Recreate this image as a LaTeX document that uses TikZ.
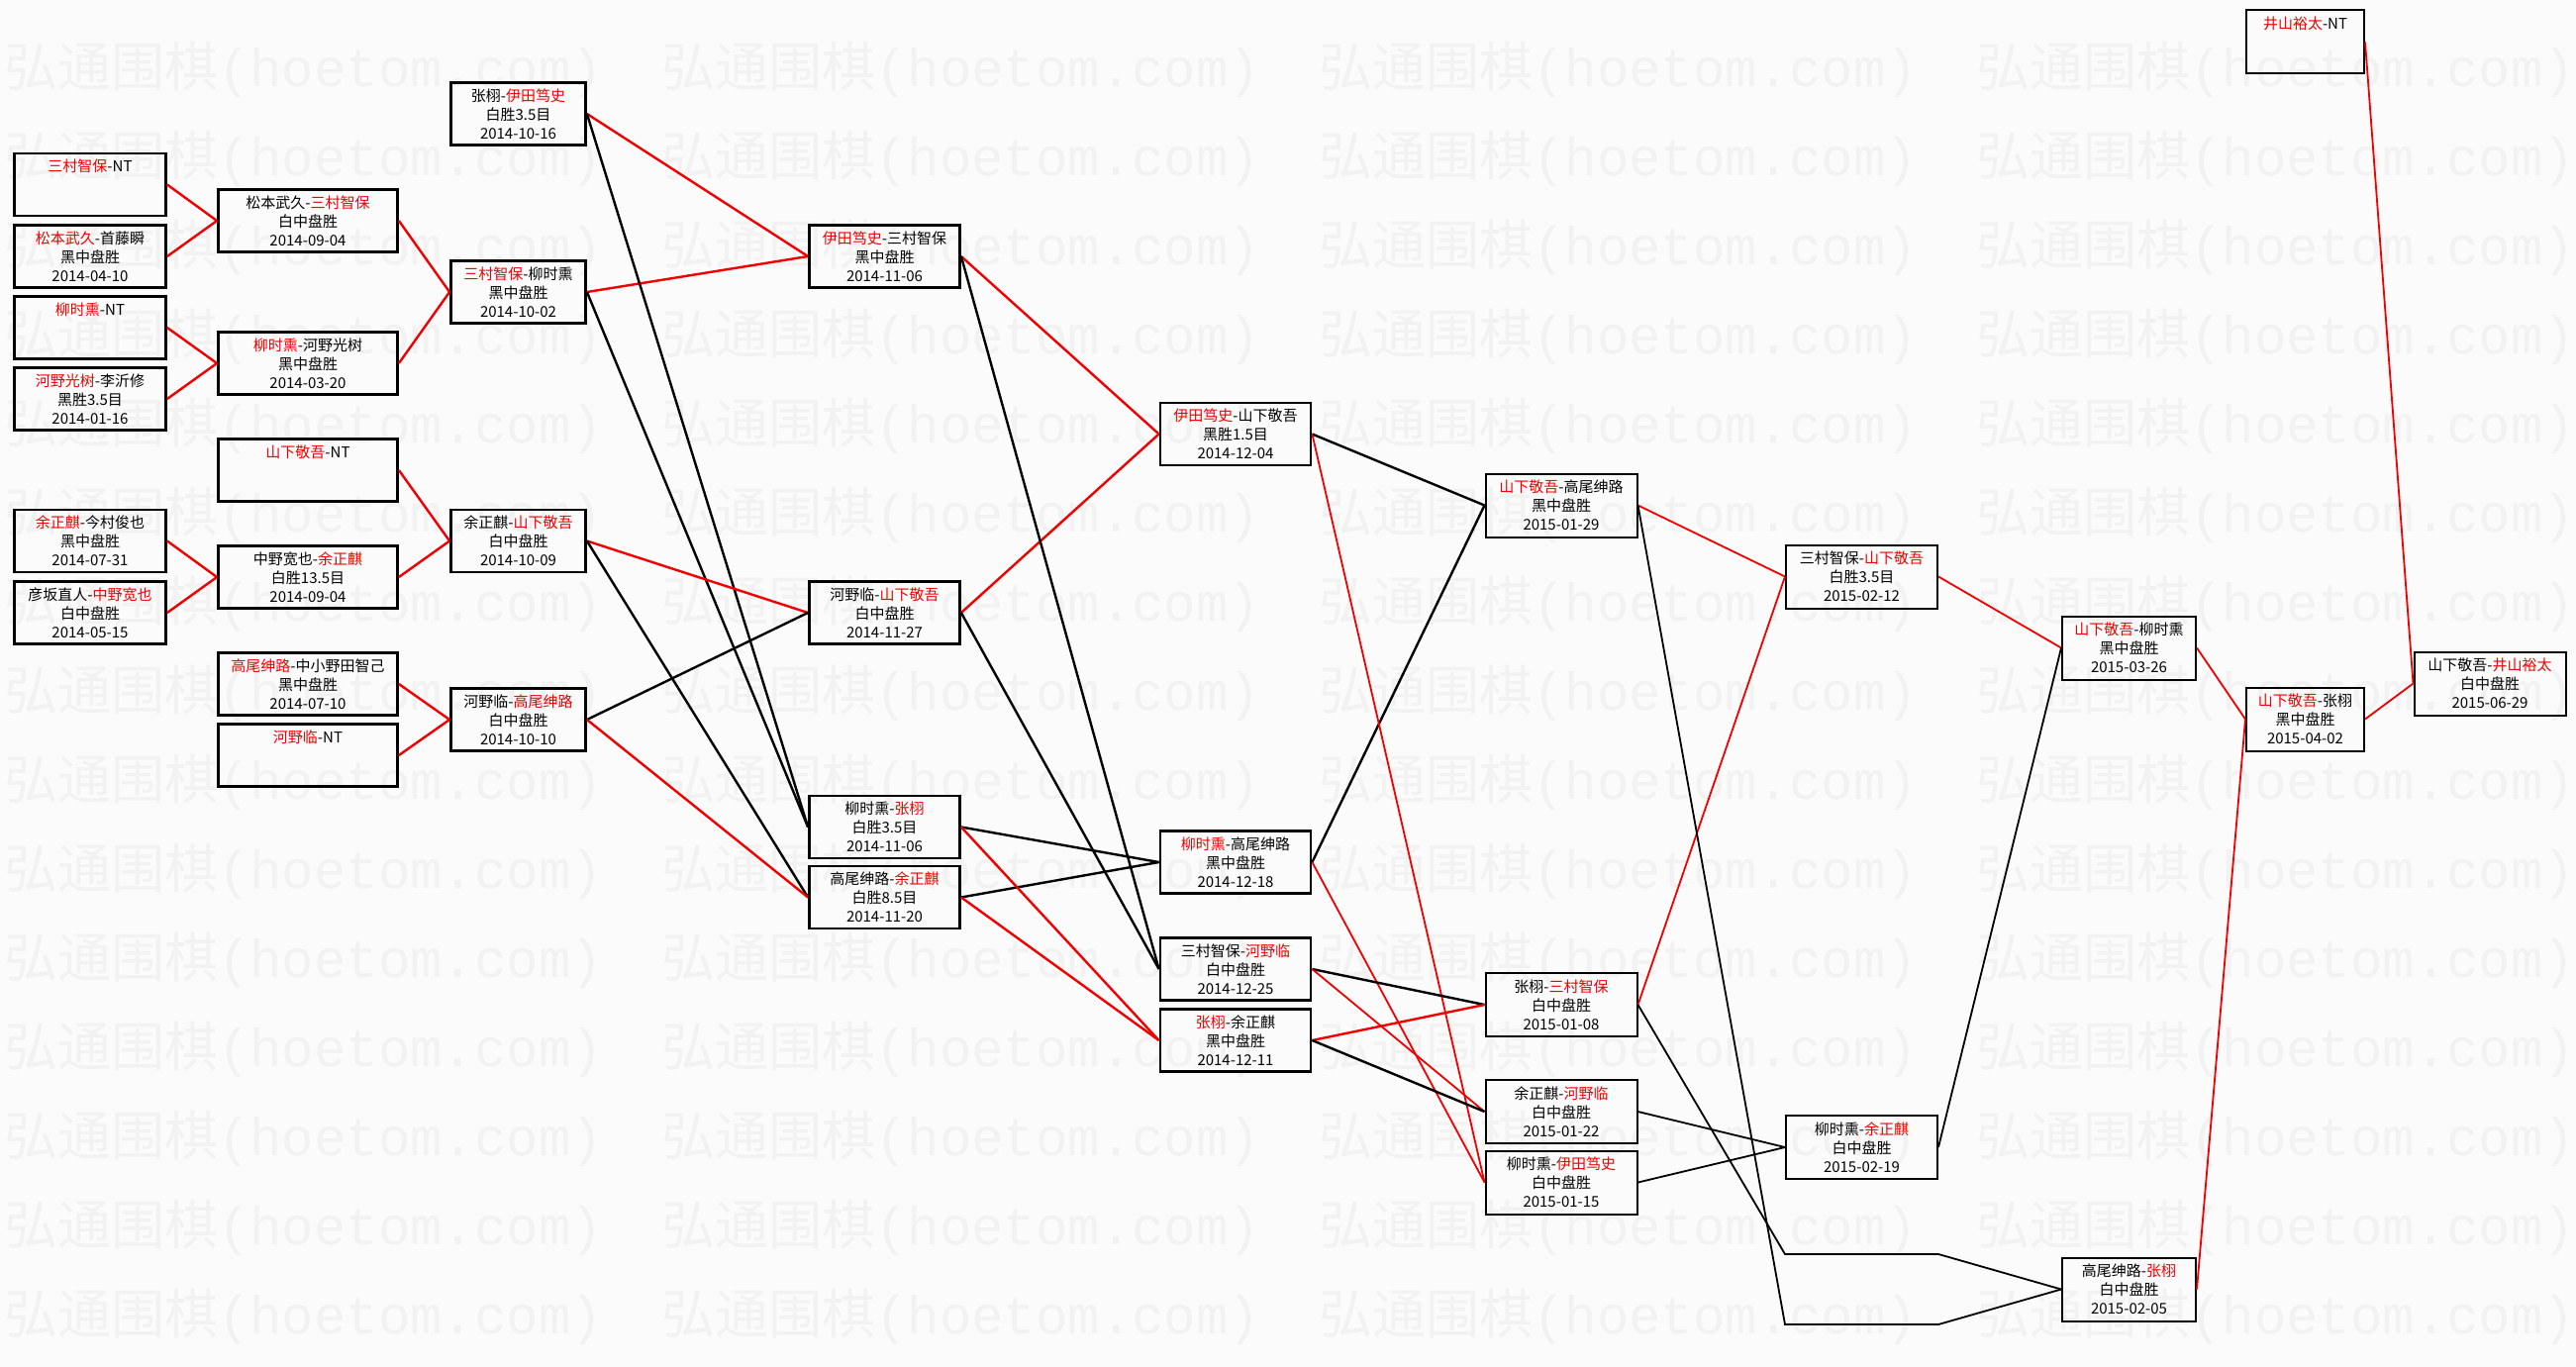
\documentclass[tikz,border=0pt]{standalone}
\usepackage{fontspec}
\setmainfont{Noto Sans CJK SC}
\newfontfamily\markfont{Liberation Mono}
\definecolor{winred}{RGB}{240,0,0}
\definecolor{markgray}{RGB}{242,242,242}
\definecolor{paper}{RGB}{251,251,251}
\newcommand{\won}[1]{\textcolor{winred}{#1}}

\begin{document}
\begin{tikzpicture}[x=1pt, y=-1pt,
  game/.style={draw, line width=2.8pt, inner sep=0pt, align=center,
    minimum height=63pt, font=\fontsize{15}{19}\selectfont},
  late/.style={line width=2pt, minimum height=64pt},
  colA/.style={game, minimum width=153pt},
  colB/.style={game, minimum width=181pt},
  colC/.style={game, minimum width=136pt},
  colD/.style={game, minimum width=152pt},
  colF/.style={game, late, minimum width=153pt},
  colH/.style={game, late, minimum width=135pt},
  colI/.style={game, late, minimum width=119pt},
  win/.style={draw=winred, line width=2.4pt},
  lose/.style={draw=black, line width=2.4pt},
  thin/.style={line width=1.8pt},
  watermark/.style={anchor=west, inner sep=0pt, text=markgray, font=\fontsize{54}{54}\selectfont}]
\useasboundingbox[fill=paper] (0,0) rectangle (2602,1381);
\foreach \row in {0,...,14}
  \foreach \col in {0,...,3}
    \node[watermark] (wm-\row-\col) at (4+\col*664, 70+\row*90) {弘通围棋{\markfont(hoetom.com)}};

\node[colA] (A1) at (91,186.5) {\won{三村智保}-NT\\~\\~};
\node[colA] (A2) at (91,259) {\won{松本武久}-首藤瞬\\黑中盘胜\\2014-04-10};
\node[colA] (A3) at (91,331) {\won{柳时熏}-NT\\~\\~};
\node[colA] (A4) at (91,403) {\won{河野光树}-李沂修\\黑胜3.5目\\2014-01-16};
\node[colA] (A5) at (91,546.5) {\won{余正麒}-今村俊也\\黑中盘胜\\2014-07-31};
\node[colA] (A6) at (91,619) {彦坂直人-\won{中野宽也}\\白中盘胜\\2014-05-15};

\node[colB] (B1) at (311,223) {松本武久-\won{三村智保}\\白中盘胜\\2014-09-04};
\node[colB] (B2) at (311,367) {\won{柳时熏}-河野光树\\黑中盘胜\\2014-03-20};
\node[colB] (B3) at (311,475) {\won{山下敬吾}-NT\\~\\~};
\node[colB] (B4) at (311,583) {中野宽也-\won{余正麒}\\白胜13.5目\\2014-09-04};
\node[colB] (B5) at (311,691) {\won{高尾绅路}-中小野田智己\\黑中盘胜\\2014-07-10};
\node[colB] (B6) at (311,763) {\won{河野临}-NT\\~\\~};

\node[colC] (C1) at (523.5,115) {张栩-\won{伊田笃史}\\白胜3.5目\\2014-10-16};
\node[colC] (C2) at (523.5,295) {\won{三村智保}-柳时熏\\黑中盘胜\\2014-10-02};
\node[colC] (C3) at (523.5,546.5) {余正麒-\won{山下敬吾}\\白中盘胜\\2014-10-09};
\node[colC] (C4) at (523.5,727) {河野临-\won{高尾绅路}\\白中盘胜\\2014-10-10};

\node[colD] (D1) at (893.5,259) {\won{伊田笃史}-三村智保\\黑中盘胜\\2014-11-06};
\node[colD] (D2) at (893.5,619) {河野临-\won{山下敬吾}\\白中盘胜\\2014-11-27};
\node[colD] (D3) at (893.5,835.5) {柳时熏-\won{张栩}\\白胜3.5目\\2014-11-06};
\node[colD] (D4) at (893.5,906.5) {高尾绅路-\won{余正麒}\\白胜8.5目\\2014-11-20};

\node[colD] (E1) at (1248,438.5) {\won{伊田笃史}-山下敬吾\\黑胜1.5目\\2014-12-04};
\node[colD] (E2) at (1248,871) {\won{柳时熏}-高尾绅路\\黑中盘胜\\2014-12-18};
\node[colD] (E3) at (1248,979) {三村智保-\won{河野临}\\白中盘胜\\2014-12-25};
\node[colD] (E4) at (1248,1051) {\won{张栩}-余正麒\\黑中盘胜\\2014-12-11};

\node[colF] (F1) at (1577,510.5) {\won{山下敬吾}-高尾绅路\\黑中盘胜\\2015-01-29};
\node[colF] (F2) at (1577,1015) {张栩-\won{三村智保}\\白中盘胜\\2015-01-08};
\node[colF] (F3) at (1577,1123) {余正麒-\won{河野临}\\白中盘胜\\2015-01-22};
\node[colF] (F4) at (1577,1194.5) {柳时熏-\won{伊田笃史}\\白中盘胜\\2015-01-15};

\node[colF] (G1) at (1880.5,582.5) {三村智保-\won{山下敬吾}\\白胜3.5目\\2015-02-12};
\node[colF] (G2) at (1880.5,1159) {柳时熏-\won{余正麒}\\白中盘胜\\2015-02-19};
\coordinate (G3a) at (1803,1267);
\coordinate (G3b) at (1958,1267);
\coordinate (G4a) at (1803,1338);
\coordinate (G4b) at (1958,1338);

\node[colH] (H1) at (2150.5,654.5) {\won{山下敬吾}-柳时熏\\黑中盘胜\\2015-03-26};
\node[colH] (H2) at (2150.5,1302.5) {高尾绅路-\won{张栩}\\白中盘胜\\2015-02-05};

\node[colI] (I0) at (2328.5,42.5) {\won{井山裕太}-NT\\~\\~};
\node[colI] (I1) at (2328.5,726.5) {\won{山下敬吾}-张栩\\黑中盘胜\\2015-04-02};

\node[colF] (J1) at (2515,690.5) {山下敬吾-\won{井山裕太}\\白中盘胜\\2015-06-29};

\draw[win] (A1.east) -- (B1.west);
\draw[win] (A2.east) -- (B1.west);
\draw[win] (A3.east) -- (B2.west);
\draw[win] (A4.east) -- (B2.west);
\draw[win] (A5.east) -- (B4.west);
\draw[win] (A6.east) -- (B4.west);

\draw[win] (B1.east) -- (C2.west);
\draw[win] (B2.east) -- (C2.west);
\draw[win] (B3.east) -- (C3.west);
\draw[win] (B4.east) -- (C3.west);
\draw[win] (B5.east) -- (C4.west);
\draw[win] (B6.east) -- (C4.west);

\draw[win] (C1.east) -- (D1.west);
\draw[win] (C2.east) -- (D1.west);
\draw[lose] (C1.east) -- (D3.west);
\draw[lose] (C2.east) -- (D3.west);
\draw[win] (C3.east) -- (D2.west);
\draw[lose] (C4.east) -- (D2.west);
\draw[lose] (C3.east) -- (D4.west);
\draw[win] (C4.east) -- (D4.west);

\draw[win] (D1.east) -- (E1.west);
\draw[win] (D2.east) -- (E1.west);
\draw[lose] (D1.east) -- (E3.west);
\draw[lose] (D2.east) -- (E3.west);
\draw[lose] (D3.east) -- (E2.west);
\draw[lose] (D4.east) -- (E2.west);
\draw[win] (D3.east) -- (E4.west);
\draw[win] (D4.east) -- (E4.west);

\draw[lose] (E1.east) -- (F1.west);
\draw[lose] (E2.east) -- (F1.west);
\draw[win, thin] (E1.east) -- (F4.west);
\draw[win, thin] (E2.east) -- (F4.west);
\draw[lose] (E3.east) -- (F2.west);
\draw[win] (E4.east) -- (F2.west);
\draw[win, thin] (E3.east) -- (F3.west);
\draw[lose] (E4.east) -- (F3.west);

\draw[win, thin] (F1.east) -- (G1.west);
\draw[win, thin] (F2.east) -- (G1.west);
\draw[lose, thin] (F3.east) -- (G2.west);
\draw[lose, thin] (F4.east) -- (G2.west);
\draw[lose, thin] (F2.east) -- (G3a) -- (G3b) -- (H2.west);
\draw[lose, thin] (F1.east) -- (G4a) -- (G4b) -- (H2.west);

\draw[win, thin] (G1.east) -- (H1.west);
\draw[lose, thin] (G2.east) -- (H1.west);

\draw[win, thin] (H1.east) -- (I1.west);
\draw[win, thin] (H2.east) -- (I1.west);

\draw[win, thin] (I0.east) -- (J1.west);
\draw[win, thin] (I1.east) -- (J1.west);
\end{tikzpicture}
\end{document}
